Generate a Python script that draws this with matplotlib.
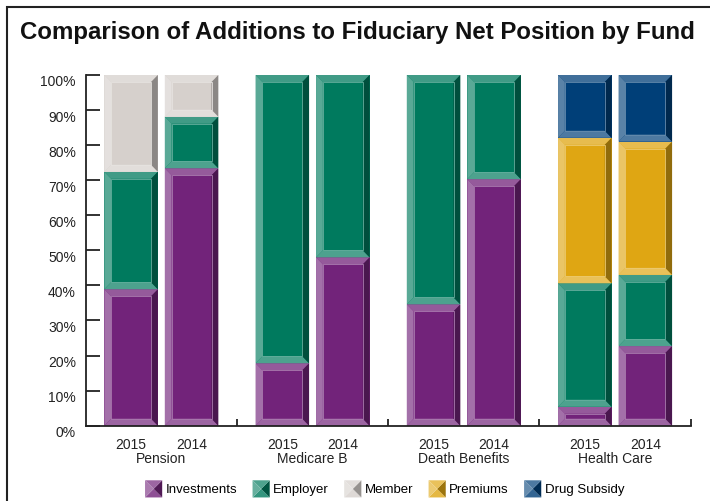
import numpy as np
import matplotlib
matplotlib.use('Agg')
from matplotlib import pyplot as plt
from matplotlib.patches import Polygon, Rectangle, Patch
from matplotlib.legend_handler import HandlerBase
from matplotlib.transforms import ScaledTranslation
from matplotlib import colors as mcolors

plt.rcParams['font.family'] = ['Liberation Sans', 'DejaVu Sans']

# data (percent of additions)
funds = ['Pension', 'Medicare B', 'Death Benefits', 'Health Care']
years = ['2015', '2014']
series = ['Investments', 'Employer', 'Member', 'Premiums', 'Drug Subsidy']
investments = [[38.9, 73.4], [17.8, 48.0], [34.6, 70.3], [5.4, 22.7]]
employer = [[33.5, 14.7], [82.2, 52.0], [65.4, 29.7], [35.2, 20.3]]
member = [[27.6, 11.9], [0, 0], [0, 0], [0, 0]]
premiums = [[0, 0], [0, 0], [0, 0], [41.5, 38.0]]
drug_subsidy = [[0, 0], [0, 0], [0, 0], [17.9, 19.0]]
colours = ['#72237a', '#007a5e', '#d6d0cc', '#dfa613', '#003f78']


def mix(c, other, t):
    a = np.array(mcolors.to_rgb(c))
    b = np.array(mcolors.to_rgb(other))
    return tuple(a * (1 - t) + b * t)


def bevel_box(ax, x0, x1, y0, y1, c, bx=0.045, by=2.0):
    by = min(by, (y1 - y0) / 2 * 0.9)
    ax.add_patch(Rectangle((x0, y0), x1 - x0, y1 - y0, facecolor=c, edgecolor='none'))
    top = [(x0, y1), (x1, y1), (x1 - bx, y1 - by), (x0 + bx, y1 - by)]
    bot = [(x0, y0), (x1, y0), (x1 - bx, y0 + by), (x0 + bx, y0 + by)]
    left = [(x0, y0), (x0 + bx, y0 + by), (x0 + bx, y1 - by), (x0, y1)]
    right = [(x1, y0), (x1 - bx, y0 + by), (x1 - bx, y1 - by), (x1, y1)]
    ax.add_patch(Polygon(top, closed=True, facecolor=mix(c, 'white', 0.25), edgecolor='none'))
    ax.add_patch(Polygon(bot, closed=True, facecolor=mix(c, 'white', 0.3), edgecolor='none'))
    ax.add_patch(Polygon(left, closed=True, facecolor=mix(c, 'white', 0.35), edgecolor='none'))
    ax.add_patch(Polygon(right, closed=True, facecolor=mix(c, 'black', 0.35), edgecolor='none'))
    ax.add_patch(Rectangle((x0 + bx, y0 + by), x1 - x0 - 2 * bx, y1 - y0 - 2 * by,
                           facecolor='none', edgecolor=mix(c, 'white', 0.4), lw=0.6))


class BevelHandler(HandlerBase):
    def create_artists(self, legend, orig_handle, xdescent, ydescent,
                       width, height, fontsize, trans):
        c = orig_handle.get_facecolor()
        s = width
        x0, y0 = -xdescent, -ydescent + (height - s) / 2
        cx, cy = x0 + s / 2, y0 + s / 2
        pts = [(x0, y0), (x0 + s, y0), (x0 + s, y0 + s), (x0, y0 + s)]
        shades = [mix(c, 'white', 0.2), mix(c, 'black', 0.3),
                  mix(c, 'white', 0.3), mix(c, 'white', 0.4)]
        arts = []
        for i in range(4):
            p = Polygon([pts[i], pts[(i + 1) % 4], (cx, cy)], closed=True,
                        facecolor=shades[i], edgecolor='none', transform=trans)
            arts.append(p)
        return arts


fig = plt.figure(figsize=(7.1, 5.01), dpi=100)
ax = fig.add_axes([0.1207, 0.1503, 0.8521, 0.7])

stack = [investments, employer, member, premiums, drug_subsidy]
offsets = [0.3, 0.7]
width = 0.354
for g in range(len(funds)):
    for j in range(len(years)):
        bottom = 0
        for s in range(len(series)):
            h = stack[s][g][j]
            if h <= 0:
                continue
            xc = g + offsets[j]
            bevel_box(ax, xc - width / 2, xc + width / 2, bottom, bottom + h, colours[s])
            bottom += h

ax.set_xlim(0, 4)
ax.set_ylim(0, 100)
for sp in ['top', 'right']:
    ax.spines[sp].set_visible(False)
ax.spines['left'].set_bounds(0, 100)
for sp in ['left', 'bottom']:
    ax.spines[sp].set_linewidth(1.3)
    ax.spines[sp].set_color('#222222')

ax.set_yticks(np.arange(0, 101, 10))
ax.set_yticklabels([f'{v}%' for v in range(0, 101, 10)])
ax.tick_params(axis='y', direction='in', length=10, width=1.3, color='#222222',
               labelsize=10, labelcolor='#222222', pad=7)
for lab in ax.get_yticklabels():
    lab.set_transform(lab.get_transform() + ScaledTranslation(0, -6 / 100, fig.dpi_scale_trans))

xt = [g + o for g in range(len(funds)) for o in offsets]
ax.set_xticks(xt)
ax.set_xticklabels(years * len(funds))
ax.tick_params(axis='x', which='major', length=0, labelsize=10, labelcolor='#222222', pad=9)
ax.set_xticks([1, 2, 3, 4], minor=True)
ax.tick_params(axis='x', which='minor', direction='in', length=5, width=1.3, color='#222222')

for g, name in enumerate(funds):
    ax.annotate(name, xy=(g + 0.5, 0), xycoords=('data', 'axes fraction'),
                xytext=(0, -24), textcoords='offset points', ha='center', va='center',
                fontsize=10, color='#222222')

fig.text(0.028, 0.936, 'Comparison of Additions to Fiduciary Net Position by Fund',
         fontsize=17.3, fontweight='bold', ha='left', va='center', color='#111111')

fig.add_artist(Rectangle((0.0099, -0.1), 1.2, 1.086, transform=fig.transFigure,
                         fill=False, lw=1.5, edgecolor='#222222', clip_on=False))

handles = [Patch(facecolor=c, label=n) for c, n in zip(colours, series)]
fig.legend(handles=handles, loc='center', bbox_to_anchor=(0.5416, 0.024), ncol=5,
           frameon=False, fontsize=9.5, handlelength=1.3, handleheight=1.3,
           handletextpad=0.25, columnspacing=1.17,
           handler_map={Patch: BevelHandler()})

fig.savefig('out.png', dpi=100)
